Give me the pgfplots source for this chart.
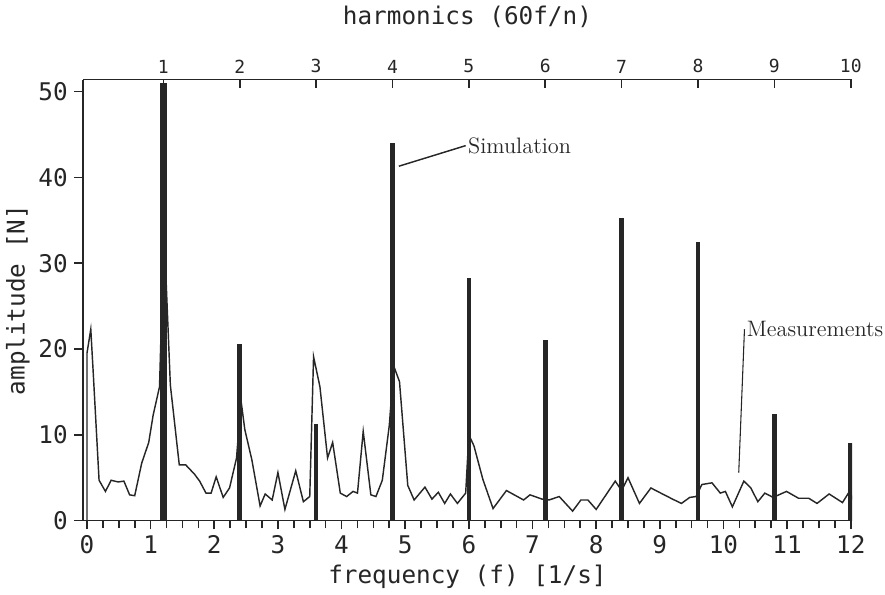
\documentclass[border=0pt]{standalone}
\usepackage{fontspec}
\usepackage{pgfplots}
\pgfplotsset{compat=1.18}
\newfontfamily\plotfont{DejaVu Sans Mono}
\colorlet{ink}{black!85}
\begin{document}
\begin{tikzpicture}
\begin{axis}[
  scale only axis, width=15.0cm, height=8.6cm,
  xmin=-0.065, xmax=12.02, ymin=0, ymax=51.4,
  axis x line*=bottom, axis y line*=left,
  axis line style={ink, line width=1pt},
  every tick/.style={ink, line width=0.9pt},
  tick align=outside,
  major tick length=1.7mm, minor tick length=1.5mm,
  xtick={0,1,...,12}, minor x tick num=3,
  ytick={0,10,...,50},
  /pgf/number format/assume math mode=true,
  tick label style={font=\plotfont\fontsize{13.5}{15}\selectfont, text=ink},
  label style={font=\plotfont\fontsize{13.5}{15}\selectfont, text=ink},
  xlabel={frequency (f) [1/s]},
  ylabel={amplitude [N]},
  xlabel style={yshift=1pt},
  ylabel style={yshift=-2pt},
  clip mode=individual,
]
% Measurements
\addplot[ink, line width=0.8pt, sharp plot] coordinates {
(0,0) (0,19.5) (0.06,22.3) (0.1,17) (0.19,4.7) (0.29,3.4) (0.38,4.7) (0.49,4.5)
(0.58,4.6) (0.67,3.0) (0.75,2.9) (0.86,6.7) (0.97,9.1) (1.04,12.3) (1.14,15.6)
(1.21,34) (1.31,15.8) (1.45,6.5) (1.55,6.5) (1.69,5.4) (1.77,4.6) (1.87,3.2)
(1.95,3.2) (2.03,5.1) (2.14,2.7) (2.24,3.8) (2.35,7.3) (2.42,14) (2.48,10.6)
(2.59,7.1) (2.72,1.7) (2.80,3.1) (2.91,2.4) (3.00,5.6) (3.11,1.3) (3.28,5.8)
(3.40,2.2) (3.50,2.8) (3.56,19.1) (3.66,15.6) (3.78,7.3) (3.86,9.1) (3.98,3.2)
(4.08,2.8) (4.18,3.4) (4.25,3.2) (4.34,10.4) (4.46,3.0) (4.54,2.8) (4.64,4.7)
(4.75,11.1) (4.82,18) (4.91,16.2) (5.04,4.1) (5.14,2.4) (5.31,3.9) (5.42,2.5)
(5.52,3.3) (5.62,2.0) (5.71,3.1) (5.82,2.0) (5.95,3.2) (6.0,10) (6.08,8.7)
(6.22,4.8) (6.38,1.4) (6.59,3.5) (6.86,2.4) (6.96,3.0) (7.15,2.5) (7.26,2.4)
(7.42,2.8) (7.63,1.1) (7.76,2.4) (7.87,2.4) (8.0,1.3) (8.30,4.6) (8.40,3.5)
(8.5,5.0) (8.68,2.0) (8.86,3.8) (8.99,3.3) (9.2,2.5) (9.34,2.0) (9.47,2.7)
(9.57,2.8) (9.66,4.2) (9.82,4.4) (9.95,3.2) (10.03,3.4) (10.14,1.6) (10.32,4.6)
(10.43,3.8) (10.54,2.2) (10.65,3.2) (10.78,2.7) (10.99,3.4) (11.18,2.6)
(11.34,2.6) (11.47,2.0) (11.66,3.1) (11.87,2.1) (11.98,3.4) (12.05,2.2)
};
% Simulation
\addplot[ycomb, ink, line width=4.2pt, mark=none] coordinates {(1.2,51)};
\addplot[ycomb, ink, line width=2.6pt, mark=none] coordinates {
(2.4,20.6) (3.6,11.2) (4.8,44) (6.0,28.3) (7.2,21) (8.4,35.3) (9.6,32.5) (10.8,12.4) (12.0,9.0)
};
% annotations
\draw[ink, line width=0.8pt] (axis cs:4.9,41.3) -- (axis cs:5.95,43.7)
  node[anchor=west, inner sep=1pt, font=\fontsize{12.4}{14}\selectfont, text=ink] {Simulation};
\draw[ink, line width=0.6pt] (axis cs:10.24,5.6) -- (axis cs:10.33,22.3)
  node[anchor=west, inner sep=1pt, font=\fontsize{12.4}{14}\selectfont, text=ink] {Measurements};
\end{axis}
\begin{axis}[
  scale only axis, width=15.0cm, height=8.6cm,
  xmin=-0.065, xmax=12.02, ymin=0, ymax=51.4,
  axis x line*=top, axis y line=none,
  axis line style={ink, line width=1pt},
  every tick/.style={ink, line width=0.9pt},
  tick align=inside, major tick length=1.7mm,
  xtick={1.2,2.4,3.6,4.8,6.0,7.2,8.4,9.6,10.8,12.0},
  xticklabels={1,2,3,4,5,6,7,8,9,10},
  tick label style={font=\plotfont\fontsize{10}{12}\selectfont, text=ink},
  label style={font=\plotfont\fontsize{13.5}{15}\selectfont, text=ink},
  xlabel={harmonics (60f/n)},
  xlabel style={yshift=3.8mm},
]
\end{axis}
\end{tikzpicture}
\end{document}
